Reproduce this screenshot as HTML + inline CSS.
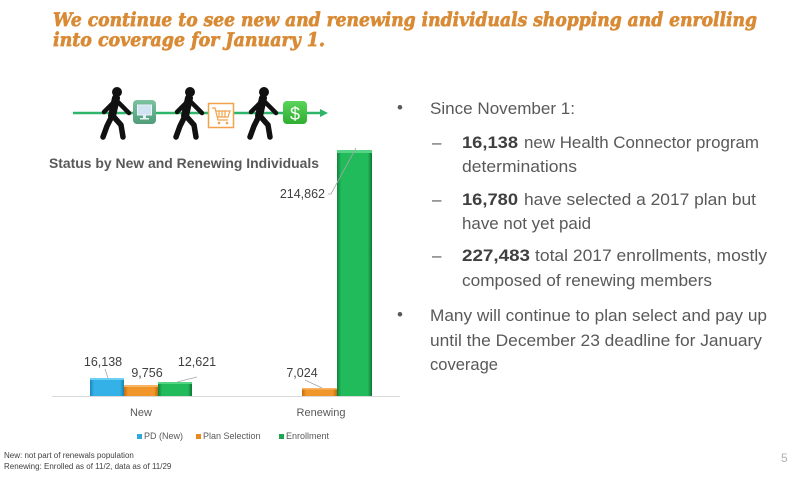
<!DOCTYPE html>
<html><head><meta charset="utf-8"><style>
html,body{margin:0;padding:0;background:#fff;}
svg{display:block;}
text{font-family:"Liberation Sans",sans-serif;}
text.ttl{font-family:"DejaVu Serif","Liberation Serif",serif;font-weight:bold;font-style:italic;}
</style></head><body>
<svg width="800" height="477" viewBox="0 0 800 477" xmlns="http://www.w3.org/2000/svg">
<defs>
<linearGradient id="gB" x1="0" x2="1" y1="0" y2="0">
<stop offset="0" stop-color="#1c86bd"/><stop offset="0.12" stop-color="#34b2e8"/><stop offset="0.88" stop-color="#34b2e8"/><stop offset="1" stop-color="#1c7fb3"/></linearGradient>
<linearGradient id="gO" x1="0" x2="1" y1="0" y2="0">
<stop offset="0" stop-color="#c46d12"/><stop offset="0.12" stop-color="#f0962a"/><stop offset="0.88" stop-color="#f0962a"/><stop offset="1" stop-color="#c06a10"/></linearGradient>
<linearGradient id="gG" x1="0" x2="1" y1="0" y2="0">
<stop offset="0" stop-color="#11803c"/><stop offset="0.12" stop-color="#22bb5c"/><stop offset="0.88" stop-color="#22bb5c"/><stop offset="1" stop-color="#0f7535"/></linearGradient>
<linearGradient id="gM" x1="0" x2="0" y1="0" y2="1">
<stop offset="0" stop-color="#7cc39f"/><stop offset="1" stop-color="#4f9c78"/></linearGradient>
<linearGradient id="gD" x1="0" x2="0" y1="0" y2="1">
<stop offset="0" stop-color="#5bd45b"/><stop offset="1" stop-color="#2fae2f"/></linearGradient>
<g id="walker">
<circle cx="0" cy="0" r="5" fill="#111"/>
<path d="M-1 6 L-5 24" stroke="#111" stroke-width="8" stroke-linecap="round" fill="none"/>
<path d="M-2 9 L-9 16 L-13 20" stroke="#111" stroke-width="4.5" stroke-linecap="round" stroke-linejoin="round" fill="none"/>
<path d="M0 9 L6 15 L12 21" stroke="#111" stroke-width="4.5" stroke-linecap="round" stroke-linejoin="round" fill="none"/>
<path d="M-5 24 L-10 34 L-14 45" stroke="#111" stroke-width="5.5" stroke-linecap="round" stroke-linejoin="round" fill="none"/>
<path d="M-4 24 L4 33 L6 45" stroke="#111" stroke-width="5.5" stroke-linecap="round" stroke-linejoin="round" fill="none"/>
</g>
</defs>

<!-- Title -->
<text class="ttl" x="53" y="26" font-size="19" fill="#d98a35" stroke="#d98a35" stroke-width="0.7" textLength="704" lengthAdjust="spacingAndGlyphs">We continue to see new and renewing individuals shopping and enrolling</text>
<text class="ttl" x="53" y="46" font-size="19" fill="#d98a35" stroke="#d98a35" stroke-width="0.7" textLength="272" lengthAdjust="spacingAndGlyphs">into coverage for January 1.</text>

<!-- Icon row -->
<line x1="73" y1="113" x2="322" y2="113" stroke="#2fb56a" stroke-width="2.5"/>
<path d="M320 109 L328 113 L320 117 Z" fill="#2fb56a"/>
<use href="#walker" x="117" y="92"/>
<use href="#walker" x="190" y="92"/>
<use href="#walker" x="264" y="92"/>
<!-- monitor -->
<rect x="133" y="100" width="23" height="24" rx="4" fill="url(#gM)"/>
<rect x="137.5" y="105" width="14" height="10" fill="#cfe3f1" stroke="#eef" stroke-width="1"/>
<rect x="143" y="115" width="3" height="3" fill="#e8f0f5"/>
<rect x="140" y="118" width="9" height="1.5" fill="#e8f0f5"/>
<!-- cart -->
<rect x="208.5" y="103.5" width="25" height="24" fill="#fff" stroke="#f2a24a" stroke-width="1.5"/>
<path d="M212 108 L215 108 L218 120 L228 120 M216 111 L230 111 L228 117 L217.5 117 M219 111 L219 117 M222 111 L222 117 M225 111 L225 117" stroke="#f2a24a" stroke-width="1.2" fill="none"/>
<circle cx="219" cy="123" r="1.3" fill="#f2a24a"/><circle cx="227" cy="123" r="1.3" fill="#f2a24a"/>
<!-- dollar -->
<rect x="283" y="101" width="24" height="23" rx="4" fill="url(#gD)"/>
<text x="295" y="120" font-size="18" fill="#fff" text-anchor="middle">$</text>

<!-- Chart title -->
<text x="49" y="168" font-size="14" font-weight="bold" fill="#595959" textLength="270" lengthAdjust="spacingAndGlyphs">Status by New and Renewing Individuals</text>

<!-- Axis -->
<line x1="52" y1="396.5" x2="400" y2="396.5" stroke="#d9d9d9" stroke-width="1"/>

<!-- Bars -->
<rect x="90" y="378" width="34" height="18" fill="url(#gB)"/>
<rect x="90" y="378" width="34" height="2" fill="#6cd0f5"/>
<rect x="124" y="385" width="34" height="11" fill="url(#gO)"/>
<rect x="124" y="385" width="34" height="2" fill="#f8b565"/>
<rect x="158" y="382" width="34" height="14" fill="url(#gG)"/>
<rect x="158" y="382" width="34" height="2" fill="#55d486"/>
<rect x="302" y="388" width="35" height="8" fill="url(#gO)"/>
<rect x="302" y="388" width="35" height="1.5" fill="#f8b565"/>
<rect x="337" y="150" width="35" height="246" fill="url(#gG)"/>
<rect x="337" y="150" width="35" height="3" fill="#55d486"/>

<!-- Leader lines -->
<g stroke="#a6a6a6" stroke-width="0.8" fill="none">
<line x1="105" y1="369" x2="108" y2="378"/>
<line x1="197" y1="377" x2="177" y2="382"/>
<line x1="305" y1="380" x2="322" y2="388"/>
<path d="M328 194 L331 194 L356 148"/>
</g>

<!-- Data labels -->
<g font-size="12.5" fill="#404040" text-anchor="middle">
<text x="103" y="366">16,138</text>
<text x="147" y="377">9,756</text>
<text x="197" y="366">12,621</text>
<text x="302" y="377">7,024</text>
<text x="325" y="198" text-anchor="end">214,862</text>
</g>

<!-- Category labels -->
<g font-size="11" fill="#595959" text-anchor="middle">
<text x="141" y="416">New</text>
<text x="321" y="416">Renewing</text>
</g>

<!-- Legend -->
<g font-size="9" fill="#595959">
<rect x="137" y="434" width="5" height="5" fill="#2ea8e0"/>
<text x="144" y="439">PD (New)</text>
<rect x="196" y="434" width="5" height="5" fill="#e88a1f"/>
<text x="203" y="439">Plan Selection</text>
<rect x="279" y="434" width="5" height="5" fill="#1fa552"/>
<text x="286" y="439">Enrollment</text>
</g>

<!-- Footnotes -->
<g font-size="8" fill="#404040">
<text x="4" y="458">New: not part of renewals population</text>
<text x="4" y="469">Renewing: Enrolled as of 11/2, data as of 11/29</text>
</g>
<text x="781" y="462" font-size="12" fill="#b0b0b0">5</text>

<!-- Bullets -->
<g font-size="17" fill="#595959">
<text x="397" y="113">•</text>
<text x="430" y="114" textLength="145" lengthAdjust="spacingAndGlyphs">Since November 1:</text>

<text x="432" y="148">–</text>
<text x="462" y="148" font-weight="bold" fill="#3f3f3f" textLength="56" lengthAdjust="spacingAndGlyphs">16,138</text>
<text x="524" y="148" textLength="235" lengthAdjust="spacingAndGlyphs">new Health Connector program</text>
<text x="462" y="172" textLength="115" lengthAdjust="spacingAndGlyphs">determinations</text>

<text x="432" y="205">–</text>
<text x="462" y="205" font-weight="bold" fill="#3f3f3f" textLength="56" lengthAdjust="spacingAndGlyphs">16,780</text>
<text x="524" y="205" textLength="232" lengthAdjust="spacingAndGlyphs">have selected a 2017 plan but</text>
<text x="462" y="229" textLength="129" lengthAdjust="spacingAndGlyphs">have not yet paid</text>

<text x="432" y="261">–</text>
<text x="462" y="261" font-weight="bold" fill="#3f3f3f" textLength="68" lengthAdjust="spacingAndGlyphs">227,483</text>
<text x="535" y="261" textLength="232" lengthAdjust="spacingAndGlyphs">total 2017 enrollments, mostly</text>
<text x="462" y="286" textLength="250" lengthAdjust="spacingAndGlyphs">composed of renewing members</text>

<text x="397" y="320">•</text>
<text x="430" y="321" textLength="337" lengthAdjust="spacingAndGlyphs">Many will continue to plan select and pay up</text>
<text x="430" y="346" textLength="332" lengthAdjust="spacingAndGlyphs">until the December 23 deadline for January</text>
<text x="430" y="370" textLength="68" lengthAdjust="spacingAndGlyphs">coverage</text>
</g>
</svg>
</body></html>
